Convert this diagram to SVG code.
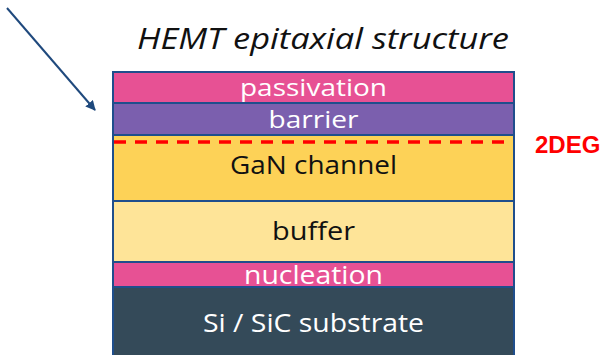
<svg xmlns="http://www.w3.org/2000/svg" width="604" height="355" viewBox="0 0 604 355">
  <style>
    .layer { stroke: #1f4e8c; stroke-width: 2; }
    .lbl { font-family: "Open Sans", "DejaVu Sans", sans-serif; font-size: 26px; text-anchor: middle; }
    .thin { font-size: 24px; }
    .light { fill: #ffffff; }
    .dark { fill: #111111; }
  </style>
  <defs>
    <marker id="arrowhead" viewBox="0 0 10 10" refX="9" refY="5" markerWidth="5" markerHeight="5" orient="auto" markerUnits="strokeWidth">
      <path d="M0,0 L10,5 L0,10 Z" fill="#1f497d"/>
    </marker>
  </defs>

  <rect width="604" height="355" fill="#ffffff"/>

  <text x="323" y="49" font-family="'Open Sans', 'DejaVu Sans', sans-serif" font-style="italic" font-size="30" fill="#111111" text-anchor="middle" textLength="372" lengthAdjust="spacingAndGlyphs">HEMT epitaxial structure</text>

  <g id="substrate">
    <rect class="layer" x="113" y="287" width="401" height="70" fill="#344a59"/>
    <text class="lbl light" x="313.5" y="332" textLength="221" lengthAdjust="spacingAndGlyphs">Si / SiC substrate</text>
  </g>
  <g id="nucleation">
    <rect class="layer" x="113" y="262" width="401" height="25" fill="#e75194"/>
    <text class="lbl light" x="313.5" y="284" textLength="139" lengthAdjust="spacingAndGlyphs">nucleation</text>
  </g>
  <g id="buffer">
    <rect class="layer" x="113" y="201" width="401" height="61" fill="#fee498"/>
    <text class="lbl dark" x="313.5" y="240" textLength="83" lengthAdjust="spacingAndGlyphs">buffer</text>
  </g>
  <g id="channel">
    <rect class="layer" x="113" y="135" width="401" height="66" fill="#fdd257"/>
    <text class="lbl dark" x="313.5" y="174" textLength="167" lengthAdjust="spacingAndGlyphs">GaN channel</text>
  </g>
  <g id="barrier">
    <rect class="layer" x="113" y="103" width="401" height="32" fill="#7b5fae"/>
    <text class="lbl thin light" x="313.5" y="128" textLength="90" lengthAdjust="spacingAndGlyphs">barrier</text>
  </g>
  <g id="passivation">
    <rect class="layer" x="113" y="72" width="401" height="31" fill="#e75194"/>
    <text class="lbl thin light" x="313.5" y="96" textLength="147" lengthAdjust="spacingAndGlyphs">passivation</text>
  </g>

  <g id="twodeg">
    <line x1="114" y1="142" x2="513" y2="142" stroke="#ff0000" stroke-width="3.5" stroke-dasharray="12 9"/>
    <text x="535" y="153" font-family="'Liberation Sans', Arial, sans-serif" font-weight="bold" font-size="24" fill="#ff0000">2DEG</text>
  </g>

  <g id="connectors">
    <line x1="7" y1="8" x2="95" y2="110" stroke="#1f497d" stroke-width="2" marker-end="url(#arrowhead)"/>
  </g>
</svg>
